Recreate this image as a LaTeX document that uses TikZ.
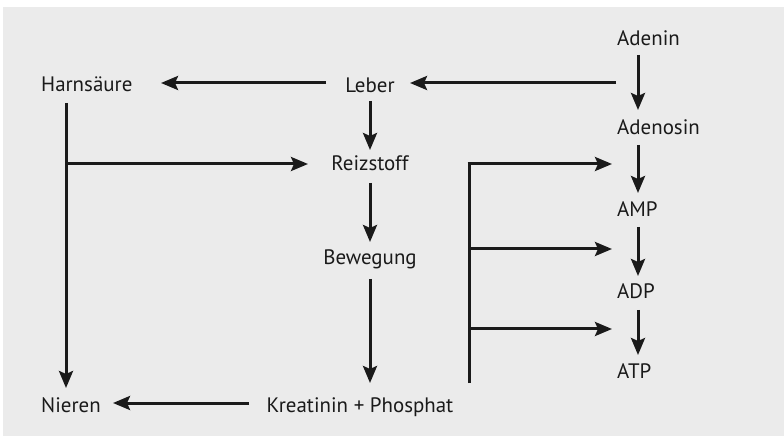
\documentclass[tikz,border=0pt]{standalone}
\usepackage{fontspec}
\setmainfont{PT Sans}
\usetikzlibrary{arrows.meta}
\definecolor{bg}{HTML}{EBEBEB}
\definecolor{ink}{HTML}{1A1A1A}
\begin{document}
\begin{tikzpicture}[x=1bp,y=-1bp,
  lbl/.style={inner sep=0pt,text=ink,font=\fontsize{21}{25}\selectfont},
  ln/.style={draw=ink,line width=3bp},
  arr/.style={ln,-{Stealth[length=17bp,width=14bp,inset=3bp]}}]
\useasboundingbox (0,0) rectangle (784,436);
\fill[bg] (3,7) rectangle (784,436);
% nodes
\node[lbl,anchor=base west] (adenin) at (617,46) {Adenin};
\node[lbl,anchor=base west] (adenosin) at (617,135) {Adenosin};
\node[lbl,anchor=base west] (amp) at (617,217) {AMP};
\node[lbl,anchor=base west] (adp) at (617,299) {ADP};
\node[lbl,anchor=base west] (atp) at (617,379) {ATP};
\node[lbl,anchor=base] (leber) at (370,93) {Leber};
\node[lbl,anchor=base] (reiz) at (370,171) {Reizstoff};
\node[lbl,anchor=base] (beweg) at (370,265) {Bewegung};
\node[lbl,anchor=base] (kreat) at (360,412) {Kreatinin + Phosphat};
\node[lbl,anchor=base west] (harn) at (41,92) {Harnsäure};
\node[lbl,anchor=base west] (nieren) at (41,412) {Nieren};
% connector points
\coordinate (adeninS) at (638,55);
\coordinate (adenosinN) at (638,110);
\coordinate (adenosinS) at (638,145);
\coordinate (ampN) at (638,193);
\coordinate (ampS) at (638,227);
\coordinate (adpN) at (638,276);
\coordinate (adpS) at (638,310);
\coordinate (atpN) at (638,355);
\coordinate (adeninW) at (616,83);
\coordinate (leberE) at (410,83);
\coordinate (leberW) at (326,83);
\coordinate (harnE) at (161,83);
\coordinate (leberS) at (370,101);
\coordinate (reizN) at (370,150);
\coordinate (reizS) at (370,183);
\coordinate (bewegN) at (370,242);
\coordinate (bewegS) at (370,279);
\coordinate (kreatN) at (370,383);
\coordinate (harnS) at (66,103);
\coordinate (niereN) at (66,388);
\coordinate (branch) at (66,164);
\coordinate (reizW) at (308,164);
\coordinate (kreatW) at (249,403);
\coordinate (niereE) at (113,403);
\coordinate (brT) at (469,164);
\coordinate (brM) at (469,249);
\coordinate (brL) at (469,329);
\coordinate (brB) at (469,383);
\coordinate (tAMP) at (612,164);
\coordinate (tADP) at (612,249);
\coordinate (tATP) at (612,329);
% connectors
\draw[arr] (adeninS) -- (adenosinN);
\draw[arr] (adenosinS) -- (ampN);
\draw[arr] (ampS) -- (adpN);
\draw[arr] (adpS) -- (atpN);
\draw[arr] (adeninW) -- (leberE);
\draw[arr] (leberW) -- (harnE);
\draw[arr] (leberS) -- (reizN);
\draw[arr] (reizS) -- (bewegN);
\draw[arr] (bewegS) -- (kreatN);
\draw[arr] (harnS) -- (niereN);
\draw[arr] (branch) -- (reizW);
\draw[arr] (kreatW) -- (niereE);
\draw[ln] (brB) -- (brT);
\draw[arr] ([xshift=-1.5bp]brT) -- (tAMP);
\draw[arr] (brM) -- (tADP);
\draw[arr] (brL) -- (tATP);
\end{tikzpicture}
\end{document}
